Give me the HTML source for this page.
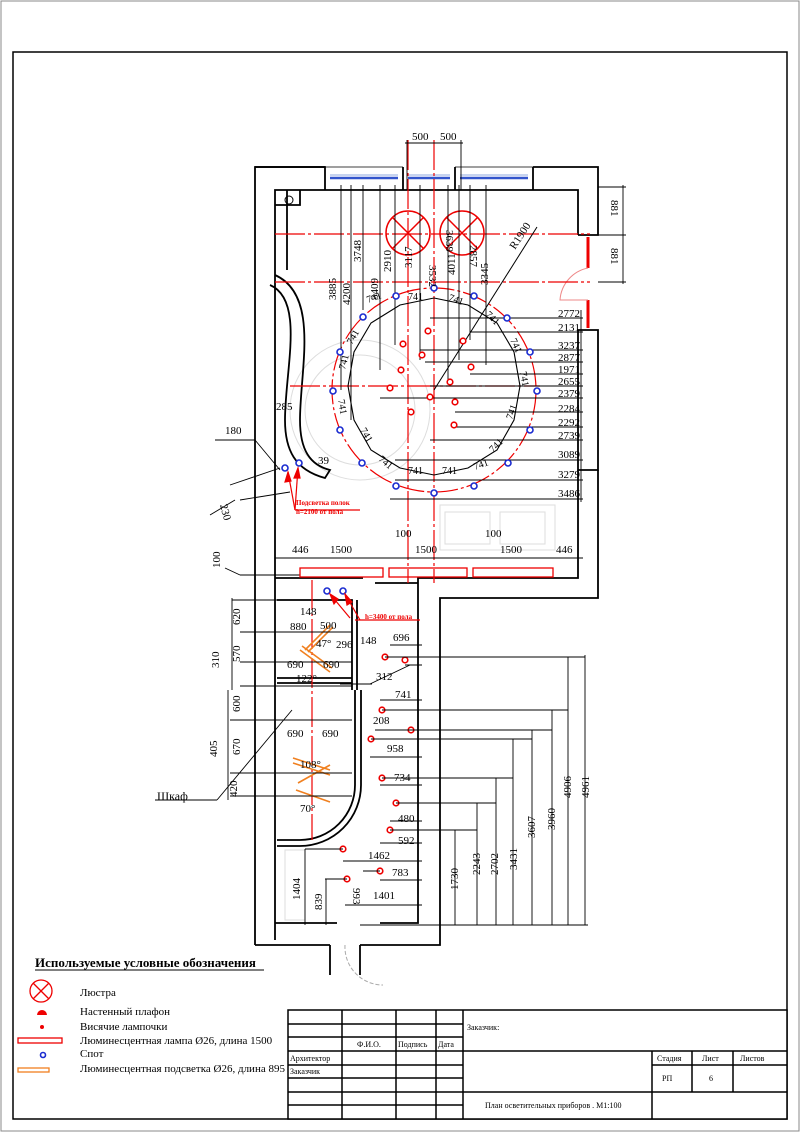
<!DOCTYPE html>
<html><head><meta charset="utf-8"><style>
html,body{margin:0;padding:0;background:#fff}
svg{display:block}
text{font-family:"Liberation Serif",serif;fill:#000}
</style></head><body>
<svg width="800" height="1132" viewBox="0 0 800 1132" xmlns="http://www.w3.org/2000/svg">
<rect x="0" y="0" width="800" height="1132" fill="#fff"/>
<rect x="1" y="1" width="798" height="1130" fill="none" stroke="#888" stroke-width="1"/>
<rect x="13" y="52" width="774" height="1067" fill="none" stroke="#000" stroke-width="1.5"/>

<g stroke="#ddd" fill="none" stroke-width="1">
<circle cx="360" cy="410" r="70"/><circle cx="360" cy="410" r="55"/>
<rect x="440" y="505" width="115" height="45"/><rect x="445" y="512" width="45" height="32"/><rect x="500" y="512" width="45" height="32"/>
<rect x="285" y="850" width="20" height="70"/>
</g>

<g stroke="#000" stroke-width="1.8" fill="none">
<path d="M255 945 V167 H325 V190 M325 167 V190"/>
<path d="M275 940 V190 H578 V235"/>
<path d="M255 167 H325"/>
<path d="M403 167 V190 M455 167 V190 M533 167 V190 M533 167 H598 V235 H578"/>
<path d="M325 167 H403 M455 167 H533" stroke-width="0.8"/>
<path d="M578 330 H598 V470 H578 Z"/>
<path d="M598 470 V598 H440 V945 H360 M330 945 H255"/>
<path d="M578 470 V578 H418 V923 H380 M337 923 H275"/>
<path d="M275 578 H363 M375 583 H418"/>
<path d="M287 190 V270 M275 205 H300 V190"/>
<path d="M277 600 H352 V678 H277 M277 683 H352 M352 600 V690 M357 600 V690"/>
<path d="M277 840 H300 A55 55 0 0 0 355 785 V690"/>
<path d="M277 846 H300 A61 61 0 0 0 361 785 V690"/>
<path d="M330 945 V975 M360 945 V975"/>
<path d="M275 275 C320 295 300 370 300 420 C300 450 310 465 330 470 L325 478 C295 470 285 450 285 420 C285 370 305 300 270 285"/>
</g>
<circle cx="289" cy="200" r="4" fill="none" stroke="#000"/>
<g stroke="#3355cc" stroke-width="2.5"><line x1="330" y1="178" x2="398" y2="178"/><line x1="408" y1="178" x2="450" y2="178"/><line x1="460" y1="178" x2="528" y2="178"/></g>
<g stroke="#8fa8e0" stroke-width="1"><line x1="330" y1="175" x2="398" y2="175"/><line x1="408" y1="175" x2="450" y2="175"/><line x1="460" y1="175" x2="528" y2="175"/></g>
<g stroke="#e00" stroke-width="3"><line x1="588" y1="237" x2="588" y2="268"/><line x1="588" y1="300" x2="588" y2="328"/></g>
<path d="M588 268 A35 35 0 0 0 560 300 H588" fill="none" stroke="#e88" stroke-width="1"/>
<path d="M345 945 A38 38 0 0 0 383 985" fill="none" stroke="#aaa" stroke-dasharray="4 2"/>

<g stroke="#e00" stroke-width="1.2" stroke-dasharray="30 3 3 3" fill="none">
<line x1="275" y1="234" x2="590" y2="234"/>
<line x1="275" y1="282" x2="590" y2="282"/>
<line x1="290" y1="386" x2="540" y2="386"/>
<line x1="408" y1="140" x2="408" y2="583"/>
<line x1="434" y1="140" x2="434" y2="583"/>
<line x1="312" y1="580" x2="312" y2="840"/>
<circle cx="434" cy="390" r="102" stroke-dasharray="25 3 3 3"/>
</g>
<g stroke="#e00" stroke-width="1.5" fill="none">
<circle cx="408" cy="233" r="22"/><line x1="392" y1="217" x2="424" y2="249"/><line x1="424" y1="217" x2="392" y2="249"/>
<circle cx="462" cy="233" r="22"/><line x1="446" y1="217" x2="478" y2="249"/><line x1="478" y1="217" x2="446" y2="249"/>
</g>
<polygon points="434,298 468,305 497,323 514,352 520,386 514,420 497,450 468,468 434,475 400,468 371,450 354,420 348,386 354,352 371,323 400,305" fill="none" stroke="#000" stroke-width="1.1"/>
<line x1="434" y1="390" x2="537" y2="227" stroke="#000"/>
<g stroke="#000" stroke-width="0.9">
<line x1="341" y1="185" x2="341" y2="390"/><line x1="351" y1="185" x2="351" y2="420"/><line x1="363" y1="185" x2="363" y2="310"/>
<line x1="380" y1="185" x2="380" y2="370"/><line x1="395" y1="185" x2="395" y2="345"/><line x1="420" y1="185" x2="420" y2="360"/>
<line x1="448" y1="185" x2="448" y2="380"/><line x1="459" y1="185" x2="459" y2="360"/><line x1="470" y1="185" x2="470" y2="340"/>
<line x1="486" y1="185" x2="486" y2="365"/><line x1="407" y1="140" x2="407" y2="190"/><line x1="461" y1="140" x2="461" y2="190"/>
<line x1="405" y1="143" x2="463" y2="143"/>
<line x1="623" y1="185" x2="623" y2="284"/><line x1="598" y1="187" x2="626" y2="187"/><line x1="598" y1="235" x2="626" y2="235"/><line x1="598" y1="282" x2="626" y2="282"/>
<line x1="430" y1="318" x2="583" y2="318"/><line x1="470" y1="332" x2="583" y2="332"/><line x1="420" y1="350" x2="583" y2="350"/>
<line x1="425" y1="362" x2="583" y2="362"/><line x1="470" y1="374" x2="583" y2="374"/><line x1="430" y1="386" x2="583" y2="386"/>
<line x1="380" y1="398" x2="583" y2="398"/><line x1="455" y1="412" x2="583" y2="412"/><line x1="455" y1="427" x2="583" y2="427"/>
<line x1="430" y1="440" x2="583" y2="440"/><line x1="395" y1="460" x2="583" y2="460"/><line x1="395" y1="480" x2="583" y2="480"/><line x1="390" y1="499" x2="583" y2="499"/>
<line x1="581" y1="310" x2="581" y2="502"/>
<line x1="230" y1="485" x2="280" y2="468"/><line x1="240" y1="500" x2="290" y2="492"/>
<line x1="215" y1="440" x2="255" y2="440"/><line x1="255" y1="440" x2="280" y2="470"/>
<line x1="210" y1="515" x2="235" y2="500"/>
<line x1="240" y1="575" x2="300" y2="575"/><line x1="225" y1="568" x2="240" y2="575"/>
<line x1="275" y1="558" x2="583" y2="558"/>
</g>
<g stroke="#e00" stroke-width="1.3" fill="none">
<rect x="300" y="568" width="83" height="9"/><rect x="389" y="568" width="78" height="9"/><rect x="473" y="568" width="80" height="9"/>
</g>
<g fill="#fff" stroke="#1a2bd0" stroke-width="1.6">
<circle cx="434" cy="288" r="3"/><circle cx="396" cy="296" r="3"/><circle cx="474" cy="296" r="3"/><circle cx="363" cy="317" r="3"/><circle cx="507" cy="318" r="3"/>
<circle cx="340" cy="352" r="3"/><circle cx="530" cy="352" r="3"/><circle cx="333" cy="391" r="3"/><circle cx="537" cy="391" r="3"/>
<circle cx="340" cy="430" r="3"/><circle cx="530" cy="430" r="3"/><circle cx="362" cy="463" r="3"/><circle cx="508" cy="463" r="3"/>
<circle cx="396" cy="486" r="3"/><circle cx="474" cy="486" r="3"/><circle cx="434" cy="493" r="3"/>
<circle cx="285" cy="468" r="3"/><circle cx="299" cy="463" r="3"/>
<circle cx="327" cy="591" r="3"/><circle cx="343" cy="591" r="3"/>
</g>
<g fill="#fff" stroke="#e00" stroke-width="1.6">
<circle cx="428" cy="331" r="2.8"/><circle cx="403" cy="344" r="2.8"/><circle cx="422" cy="355" r="2.8"/><circle cx="463" cy="341" r="2.8"/>
<circle cx="401" cy="370" r="2.8"/><circle cx="471" cy="367" r="2.8"/><circle cx="390" cy="388" r="2.8"/><circle cx="450" cy="382" r="2.8"/>
<circle cx="430" cy="397" r="2.8"/><circle cx="455" cy="402" r="2.8"/><circle cx="411" cy="412" r="2.8"/><circle cx="454" cy="425" r="2.8"/>
<circle cx="385" cy="657" r="2.8"/><circle cx="405" cy="660" r="2.8"/><circle cx="382" cy="710" r="2.8"/><circle cx="411" cy="730" r="2.8"/>
<circle cx="371" cy="739" r="2.8"/><circle cx="382" cy="778" r="2.8"/><circle cx="396" cy="803" r="2.8"/><circle cx="390" cy="830" r="2.8"/>
<circle cx="343" cy="849" r="2.8"/><circle cx="380" cy="871" r="2.8"/><circle cx="347" cy="879" r="2.8"/>
</g>
<g stroke="#e00" stroke-width="1.2" fill="#e00">
<line x1="288" y1="472" x2="295" y2="510"/><line x1="298" y1="468" x2="295" y2="510"/><line x1="295" y1="510" x2="360" y2="510"/>
<polygon points="288,472 285,482 291,481"/><polygon points="298,468 294,478 300,478"/>
<line x1="330" y1="594" x2="350" y2="618"/><line x1="345" y1="594" x2="360" y2="620"/><line x1="355" y1="620" x2="420" y2="620"/>
<polygon points="330,594 334,604 338,599"/><polygon points="345,594 347,605 352,602"/>
</g>
<text x="296" y="505" font-size="7" style="fill:#e00" font-weight="bold">Подсветка полок</text>
<text x="296" y="514" font-size="7" style="fill:#e00" font-weight="bold">h=2100 от пола</text>
<text x="365" y="619" font-size="7" style="fill:#e00" font-weight="bold">h=3400 от пола</text>
<g stroke="#f08020" stroke-width="1.6" fill="none">
<path d="M305 650 L330 625 M308 652 L333 627"/><path d="M300 650 L330 672 M302 646 L332 668"/>
<path d="M293 758 L330 770 M293 763 L330 775"/><path d="M298 783 L330 765"/><path d="M296 790 L330 802"/>
</g>
<g stroke="#000" stroke-width="0.9">
<line x1="232" y1="600" x2="277" y2="600"/><line x1="240" y1="632" x2="352" y2="632"/><line x1="240" y1="662" x2="352" y2="662"/>
<line x1="240" y1="686" x2="352" y2="686"/><line x1="230" y1="720" x2="352" y2="720"/><line x1="230" y1="773" x2="352" y2="773"/>
<line x1="230" y1="796" x2="352" y2="796"/><line x1="232" y1="598" x2="232" y2="690"/><line x1="228" y1="690" x2="228" y2="800"/>
<line x1="390" y1="645" x2="422" y2="645"/><line x1="385" y1="657" x2="585" y2="657"/><line x1="405" y1="665" x2="422" y2="665"/>
<line x1="380" y1="700" x2="422" y2="700"/><line x1="382" y1="710" x2="568" y2="710"/><line x1="375" y1="730" x2="552" y2="730"/>
<line x1="371" y1="739" x2="532" y2="739"/><line x1="370" y1="757" x2="422" y2="757"/><line x1="382" y1="778" x2="513" y2="778"/>
<line x1="380" y1="785" x2="422" y2="785"/><line x1="396" y1="803" x2="496" y2="803"/><line x1="390" y1="821" x2="422" y2="821"/>
<line x1="390" y1="830" x2="477" y2="830"/><line x1="380" y1="843" x2="422" y2="843"/><line x1="305" y1="849" x2="343" y2="849"/>
<line x1="343" y1="861" x2="422" y2="861"/><line x1="363" y1="871" x2="380" y2="871"/><line x1="380" y1="880" x2="422" y2="880"/>
<line x1="325" y1="879" x2="347" y2="879"/><line x1="345" y1="905" x2="422" y2="905"/>
<line x1="305" y1="849" x2="305" y2="925"/><line x1="326" y1="879" x2="326" y2="925"/>
<line x1="455" y1="830" x2="455" y2="925"/><line x1="477" y1="803" x2="477" y2="925"/><line x1="496" y1="778" x2="496" y2="925"/>
<line x1="513" y1="739" x2="513" y2="925"/><line x1="532" y1="730" x2="532" y2="925"/><line x1="552" y1="710" x2="552" y2="925"/>
<line x1="568" y1="657" x2="568" y2="925"/><line x1="585" y1="655" x2="585" y2="925"/><line x1="360" y1="925" x2="588" y2="925"/>
<line x1="155" y1="800" x2="217" y2="800"/><line x1="217" y1="800" x2="292" y2="710"/>
<line x1="370" y1="684" x2="410" y2="665"/><line x1="372" y1="684" x2="340" y2="684"/>
</g>
<g font-size="11">
<text x="412" y="140">500</text><text x="440" y="140">500</text>
<g text-anchor="end"><text x="580" y="317">2772</text><text x="580" y="331">2131</text><text x="580" y="349">3237</text><text x="580" y="361">2877</text>
<text x="580" y="373">1971</text><text x="580" y="385">2655</text><text x="580" y="397">2379</text><text x="580" y="412">2284</text>
<text x="580" y="426">2292</text><text x="580" y="439">2739</text><text x="580" y="458">3089</text><text x="580" y="478">3279</text><text x="580" y="497">3486</text></g>
<text x="276" y="410">285</text><text x="318" y="464">39</text><text x="225" y="434">180</text>
<text x="292" y="553">446</text><text x="330" y="553">1500</text><text x="395" y="537">100</text><text x="415" y="553">1500</text>
<text x="485" y="537">100</text><text x="500" y="553">1500</text><text x="556" y="553">446</text>
<text x="300" y="615">148</text><text x="290" y="630">880</text><text x="320" y="629">500</text><text x="316" y="647">47°</text><text x="336" y="648">296</text>
<text x="360" y="644">148</text><text x="393" y="641">696</text><text x="287" y="668">690</text><text x="323" y="668">690</text>
<text x="296" y="682">122°</text><text x="376" y="680">312</text><text x="395" y="698">741</text><text x="373" y="724">208</text>
<text x="387" y="752">958</text><text x="394" y="781">734</text><text x="287" y="737">690</text><text x="322" y="737">690</text>
<text x="300" y="768">108°</text><text x="300" y="812">70°</text><text x="398" y="822">480</text><text x="398" y="844">592</text>
<text x="368" y="859">1462</text><text x="392" y="876">783</text><text x="373" y="899">1401</text>
<text x="157" y="800" font-size="12">Шкаф</text>
</g>
<g font-size="11">
<text transform="translate(336,300) rotate(-90)">3885</text><text transform="translate(350,305) rotate(-90)">4200</text>
<text transform="translate(361,262) rotate(-90)">3748</text><text transform="translate(378,300) rotate(-90)">3409</text>
<text transform="translate(391,272) rotate(-90)">2910</text><text transform="translate(412,268) rotate(-90)">3117</text>
<text transform="translate(429,265) rotate(90)">3532</text><text transform="translate(446,230) rotate(90)">3639</text>
<text transform="translate(455,275) rotate(-90)">4011</text><text transform="translate(470,245) rotate(90)">2857</text>
<text transform="translate(488,285) rotate(-90)">3345</text>
<text transform="translate(515,250) rotate(-57)">R1900</text>
<text transform="translate(611,200) rotate(90)">881</text><text transform="translate(611,248) rotate(90)">881</text>
<text transform="translate(220,505) rotate(75)">230</text><text transform="translate(220,568) rotate(-90)">100</text>
<text transform="translate(240,625) rotate(-90)">620</text><text transform="translate(240,662) rotate(-90)">570</text>
<text transform="translate(219,668) rotate(-90)">310</text><text transform="translate(240,712) rotate(-90)">600</text>
<text transform="translate(240,755) rotate(-90)">670</text><text transform="translate(217,757) rotate(-90)">405</text>
<text transform="translate(237,797) rotate(-90)">420</text><text transform="translate(300,900) rotate(-90)">1404</text>
<text transform="translate(322,910) rotate(-90)">839</text><text transform="translate(353,888) rotate(90)">993</text>
<text transform="translate(458,890) rotate(-90)">1730</text><text transform="translate(480,875) rotate(-90)">2243</text>
<text transform="translate(498,875) rotate(-90)">2702</text><text transform="translate(517,870) rotate(-90)">3431</text>
<text transform="translate(535,838) rotate(-90)">3607</text><text transform="translate(555,830) rotate(-90)">3960</text>
<text transform="translate(571,798) rotate(-90)">4906</text><text transform="translate(589,798) rotate(-90)">4961</text>
</g>
<g font-size="10">
<text x="368" y="303" transform="rotate(-20 368 303)">741</text><text x="408" y="300">741</text><text x="448" y="300" transform="rotate(20 448 300)">741</text>
<text x="485" y="315" transform="rotate(45 485 315)">741</text><text x="510" y="340" transform="rotate(65 510 340)">741</text>
<text x="520" y="372" transform="rotate(80 520 372)">741</text><text x="512" y="420" transform="rotate(-70 512 420)">741</text>
<text x="493" y="453" transform="rotate(-45 493 453)">741</text><text x="475" y="470" transform="rotate(-20 475 470)">741</text>
<text x="442" y="474">741</text><text x="408" y="474">741</text><text x="378" y="460" transform="rotate(40 378 460)">741</text>
<text x="360" y="430" transform="rotate(60 360 430)">741</text><text x="338" y="400" transform="rotate(80 338 400)">741</text>
<text x="345" y="370" transform="rotate(-75 345 370)">741</text><text x="352" y="345" transform="rotate(-60 352 345)">741</text>
</g>

<text x="35" y="967" font-size="13" font-weight="bold">Используемые условные обозначения</text>
<line x1="35" y1="970" x2="264" y2="970" stroke="#000"/>
<g stroke="#e00" stroke-width="1.3" fill="none"><circle cx="41" cy="991" r="11"/><line x1="33" y1="983" x2="49" y2="999"/><line x1="49" y1="983" x2="33" y2="999"/></g>
<path d="M37 1015 A5 5 0 0 1 47 1015 Z" fill="#e00"/>
<circle cx="42" cy="1027" r="2" fill="#e00"/>
<rect x="18" y="1038" width="44" height="5" fill="none" stroke="#e00" stroke-width="1.3"/>
<circle cx="43" cy="1055" r="2.5" fill="#fff" stroke="#1a2bd0" stroke-width="1.6"/>
<rect x="18" y="1068" width="31" height="4" fill="none" stroke="#f08020" stroke-width="1.3"/>
<g font-size="11"><text x="80" y="996">Люстра</text><text x="80" y="1015">Настенный плафон</text><text x="80" y="1030">Висячие лампочки</text>
<text x="80" y="1044">Люминесцентная лампа Ø26, длина 1500</text><text x="80" y="1057">Спот</text><text x="80" y="1072">Люминесцентная подсветка Ø26, длина 895</text></g>

<g stroke="#000" stroke-width="1.5" fill="none">
<rect x="288" y="1010" width="499" height="109" fill="#fff"/>
<line x1="342" y1="1010" x2="342" y2="1119"/><line x1="396" y1="1010" x2="396" y2="1119"/><line x1="436" y1="1010" x2="436" y2="1119"/><line x1="463" y1="1010" x2="463" y2="1119"/>
<line x1="288" y1="1024" x2="463" y2="1024"/><line x1="288" y1="1037" x2="463" y2="1037"/><line x1="288" y1="1051" x2="787" y2="1051"/>
<line x1="288" y1="1065" x2="463" y2="1065"/><line x1="288" y1="1078" x2="463" y2="1078"/><line x1="288" y1="1092" x2="787" y2="1092"/><line x1="288" y1="1105" x2="463" y2="1105"/>
<line x1="652" y1="1051" x2="652" y2="1119"/><line x1="692" y1="1051" x2="692" y2="1092"/><line x1="733" y1="1051" x2="733" y2="1092"/><line x1="652" y1="1065" x2="787" y2="1065"/>
</g>
<g font-size="8"><text x="467" y="1030">Заказчик:</text><text x="357" y="1047">Ф.И.О.</text><text x="398" y="1047">Подпись</text><text x="438" y="1047">Дата</text>
<text x="290" y="1061">Архитектор</text><text x="290" y="1074">Заказчик</text><text x="657" y="1061">Стадия</text><text x="702" y="1061">Лист</text><text x="740" y="1061">Листов</text>
<text x="662" y="1081">РП</text><text x="709" y="1081">6</text><text x="485" y="1108">План осветительных приборов . М1:100</text></g>
</svg>
</body></html>
